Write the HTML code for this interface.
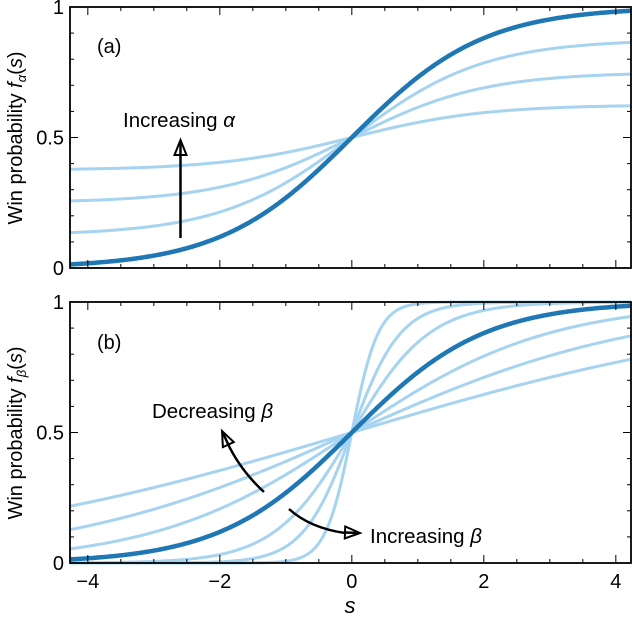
<!DOCTYPE html>
<html><head><meta charset="utf-8"><style>
body{margin:0;background:#fff}
svg text{font-family:"Liberation Sans","DejaVu Sans",sans-serif;fill:#000}
</style></head><body>
<svg id="chart" width="632" height="618" xmlns="http://www.w3.org/2000/svg"></svg>
<script>
const alphaValues=[0.25,0.5,0.75];
const betaValues=[0.3,0.45,0.67,1.7,2.7,5];
const xTicks=[-4,-2,0,2,4];
const xTickLabels=["\u22124","\u22122","0","2","4"];
const yTicks=[0,0.5,1];
const yTickLabels=["0","0.5","1"];
const xDomain=[-4.27,4.23];

const NS="http://www.w3.org/2000/svg";
const svg=document.getElementById('chart');
function mk(tag,attrs,parent){const e=document.createElementNS(NS,tag);for(const k in attrs)e.setAttribute(k,attrs[k]);(parent||svg).appendChild(e);return e;}
const L=70,R=631;
const sx=s=>L+(s-xDomain[0])/(xDomain[1]-xDomain[0])*(R-L);
const sig=z=>1/(1+Math.exp(-z));

function panel(top,bottom,name){
  const g=mk('g',{});
  
  
  const sy=v=>bottom-v*(bottom-top);
  return {g,sy,top,bottom};
}
function curve(p,f,color,w,name){
  let d='';
  for(let i=0;i<=400;i++){const s=xDomain[0]+(xDomain[1]-xDomain[0])*i/400;d+=(i?'L':'M')+sx(s).toFixed(2)+','+p.sy(f(s)).toFixed(2);}
  const e=mk('path',{d,fill:'none',stroke:color,'stroke-width':w},p.g);
  
  
}
function frame(p,showX){
  const ax=mk('g',{},p.g);
  
  
  mk('rect',{x:L,y:p.top,width:R-L,height:p.bottom-p.top,fill:'none',stroke:'#000','stroke-width':1.8},ax);
  for(let s=-4;s<=4.01;s+=0.5){
    const maj=Math.abs(s/2-Math.round(s/2))<1e-6;const len=maj?8:4;const x=sx(s);
    mk('line',{x1:x,x2:x,y1:p.bottom,y2:p.bottom-len,stroke:'#000','stroke-width':1},ax);
    mk('line',{x1:x,x2:x,y1:p.top,y2:p.top+len,stroke:'#000','stroke-width':1},ax);
  }
  for(let i=0;i<=10;i++){
    const v=i/10;const maj=i%5===0;const len=maj?8:4;const y=p.sy(v);
    mk('line',{x1:L,x2:L+len,y1:y,y2:y,stroke:'#000','stroke-width':1},ax);
    mk('line',{x1:R,x2:R-len,y1:y,y2:y,stroke:'#000','stroke-width':1},ax);
  }
  yTicks.forEach((v,i)=>{const t=mk('text',{x:L-6,y:p.sy(v)+7,'text-anchor':'end','font-size':20},ax);t.textContent=yTickLabels[i];
    });
  if(showX){xTicks.forEach((v,i)=>{const t=mk('text',{x:sx(v),y:p.bottom+25,'text-anchor':'middle','font-size':20},ax);t.textContent=xTickLabels[i];
    });}
}
function arrowHead(x,y,ang,parent){
  const a=ang*Math.PI/180,l=15,w=6;
  const bx=x-l*Math.cos(a),by=y-l*Math.sin(a);
  const px=-Math.sin(a)*w,py=Math.cos(a)*w;
  const h=mk('path',{d:`M${x},${y}L${bx+px},${by+py}L${bx-px},${by-py}Z`,fill:'#fff',stroke:'#000','stroke-width':2},parent);
  
  mk('line',{x1:bx,y1:by,x2:x-3*Math.cos(a),y2:y-3*Math.sin(a),stroke:'#000','stroke-width':2.5},parent);
}
const LIGHT='#a6d3f0',DARK='#1f77b4';

// panel a
const pa=panel(7,268,'panel-a');
alphaValues.forEach(a=>curve(pa,s=>a*sig(s)+(1-a)/2,LIGHT,3,'alpha-curve'));
curve(pa,s=>sig(s),DARK,4.5,'alpha-1-curve');
frame(pa,false);
let t=mk('text',{x:97,y:53,'font-size':20},pa.g);t.textContent='(a)';
let ga=mk('g',{},pa.g);
mk('line',{x1:180.5,y1:238,x2:180.5,y2:150,stroke:'#000','stroke-width':2.5},ga);
arrowHead(180.5,140,-90,ga);
t=mk('text',{x:123,y:127,'font-size':20.5},pa.g);t.innerHTML='Increasing <tspan font-style="italic">α</tspan>';

// panel b
const pb=panel(302,563,'panel-b');
betaValues.forEach(b=>curve(pb,s=>sig(b*s),LIGHT,3,'beta-curve'));
curve(pb,s=>sig(s),DARK,4.5,'beta-1-curve');
frame(pb,true);
t=mk('text',{x:97,y:349,'font-size':20},pb.g);t.textContent='(b)';
let gd=mk('g',{},pb.g);
mk('path',{d:'M264,492 Q240,470 227,442',fill:'none',stroke:'#000','stroke-width':2.5},gd);
arrowHead(222,431,-115,gd);
let gi=mk('g',{},pb.g);
mk('path',{d:'M289,509 Q310,528 345,533',fill:'none',stroke:'#000','stroke-width':2.5},gi);
arrowHead(360,533,2,gi);
t=mk('text',{x:152,y:418,'font-size':20.5},pb.g);t.innerHTML='Decreasing <tspan font-style="italic">β</tspan>';
t=mk('text',{x:370,y:543,'font-size':20.5},pb.g);t.innerHTML='Increasing <tspan font-style="italic">β</tspan>';

// axis titles
t=mk('text',{x:350,y:613,'font-size':22,'text-anchor':'middle','font-style':'italic'});t.textContent='s';
t=mk('text',{transform:'translate(22,138) rotate(-90)','font-size':20,'text-anchor':'middle'});t.innerHTML='Win probability <tspan font-style="italic">f</tspan><tspan font-style="italic" font-size="13" dy="4">α</tspan><tspan dy="-4">(</tspan><tspan font-style="italic">s</tspan>)';
t=mk('text',{transform:'translate(22,433) rotate(-90)','font-size':20,'text-anchor':'middle'});t.innerHTML='Win probability <tspan font-style="italic">f</tspan><tspan font-style="italic" font-size="13" dy="4">β</tspan><tspan dy="-4">(</tspan><tspan font-style="italic">s</tspan>)';
</script>
</body></html>
